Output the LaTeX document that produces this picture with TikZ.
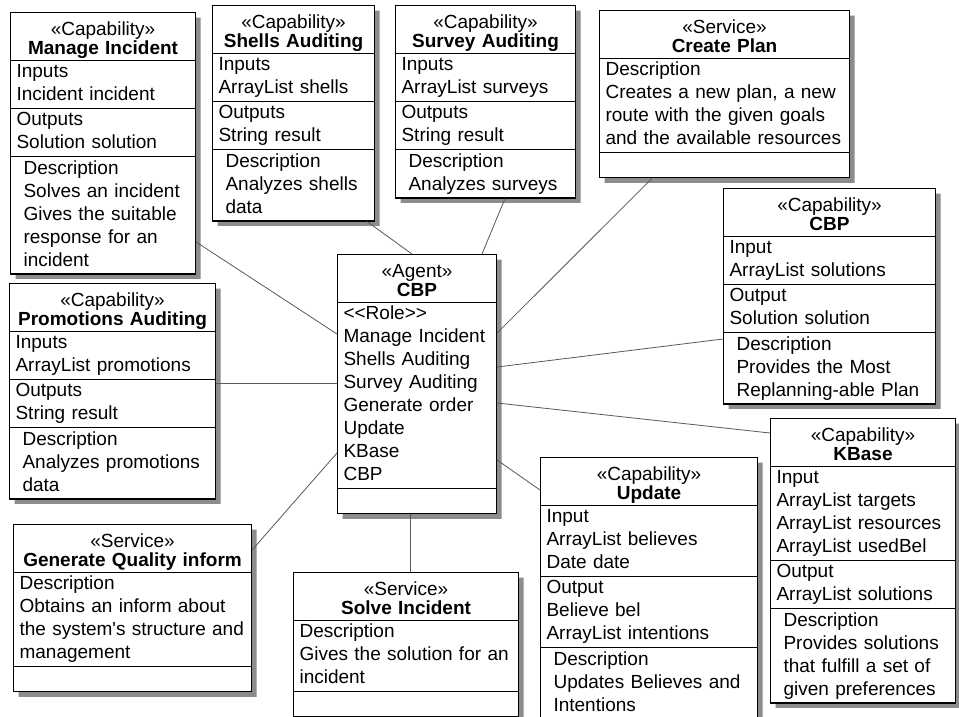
\documentclass[tikz,border=0pt]{standalone}
\usepackage{fontspec}
\setmainfont{Liberation Sans}
\usetikzlibrary{shapes.multipart,shadows}
\newcommand{\head}[2]{\centering\rule{0pt}{22pt}«#1»\\[-4pt]\textbf{#2}\rule[-5pt]{0pt}{5pt}\par}
\newcommand{\cell}[1]{\strut#1\strut\par}
\newcommand{\desc}[1]{\leftskip=7pt\strut#1\strut\par}
\tikzset{
    umlbox/.style={
        draw,fill=white,line width=1.1pt,
        rectangle split,rectangle split parts=#1,
        anchor=north west,align=left,
        inner xsep=6pt,inner ysep=0.5pt,
        font=\fontsize{19}{23}\selectfont,
        drop shadow={shadow xshift=5pt,shadow yshift=-5pt,fill=black!45,opacity=1},
    },
    link/.style={draw=black!65,line width=0.8pt},
}
\begin{document}
\begin{tikzpicture}[x=1pt,y=-1pt]
    \useasboundingbox[fill=white] (0,0) rectangle (959,716);
    \node[umlbox=4,text width=173pt] (manage) at (10,12) {\head{Capability}{Manage Incident}
        \nodepart{two}\cell{Inputs\\Incident incident}
        \nodepart{three}\cell{Outputs\\Solution solution}
        \nodepart{four}\desc{Description\\Solves an incident\\Gives the suitable\\response for an\\incident}};
    \node[umlbox=4,text width=150pt] (shells) at (212,5) {\head{Capability}{Shells Auditing}
        \nodepart{two}\cell{Inputs\\ArrayList shells}
        \nodepart{three}\cell{Outputs\\String result}
        \nodepart{four}\desc{Description\\Analyzes shells\\data}};
    \node[umlbox=4,text width=168pt] (survey) at (395,5) {\head{Capability}{Survey Auditing}
        \nodepart{two}\cell{Inputs\\ArrayList surveys}
        \nodepart{three}\cell{Outputs\\String result}
        \nodepart{four}\desc{Description\\Analyzes surveys}};
    \node[umlbox=3,text width=238pt] (createplan) at (599,10) {\head{Service}{Create Plan}
        \nodepart{two}\cell{Description\\Creates a new plan, a new\\route with the given goals\\and the available resources}
        \nodepart{three}\strut};
    \node[umlbox=3,text width=147pt] (agent) at (337,254) {\head{Agent}{CBP}
        \nodepart{two}\cell{<{}<Role>{}>\\Manage Incident\\Shells Auditing\\Survey Auditing\\Generate order\\Update\\KBase\\CBP}
        \nodepart{three}\strut};
    \node[umlbox=4,text width=200pt] (capcbp) at (723,188) {\head{Capability}{CBP}
        \nodepart{two}\cell{Input\\ArrayList solutions}
        \nodepart{three}\cell{Output\\Solution solution}
        \nodepart{four}\desc{Description\\Provides the Most\\Replanning-able Plan}};
    \node[umlbox=4,text width=173pt] (kbase) at (770,418) {\head{Capability}{KBase}
        \nodepart{two}\cell{Input\\ArrayList targets\\ArrayList resources\\ArrayList usedBel}
        \nodepart{three}\cell{Output\\ArrayList solutions}
        \nodepart{four}\desc{Description\\Provides solutions\\that fulfill a set of\\given preferences}};
    \node[umlbox=4,text width=205pt] (update) at (540,457) {\head{Capability}{Update}
        \nodepart{two}\cell{Input\\ArrayList believes\\Date date}
        \nodepart{three}\cell{Output\\Believe bel\\ArrayList intentions}
        \nodepart{four}\desc{Description\\Updates Believes and\\Intentions}};
    \node[umlbox=4,text width=194pt] (promo) at (9,283) {\head{Capability}{Promotions Auditing}
        \nodepart{two}\cell{Inputs\\ArrayList promotions}
        \nodepart{three}\cell{Outputs\\String result}
        \nodepart{four}\desc{Description\\Analyzes promotions\\data}};
    \node[umlbox=3,text width=226pt] (genq) at (13,524) {\head{Service}{Generate Quality inform}
        \nodepart{two}\cell{Description\\Obtains an inform about\\the system\textquotesingle s structure and\\management}
        \nodepart{three}\strut};
    \node[umlbox=3,text width=213pt] (solve) at (293,572) {\head{Service}{Solve Incident}
        \nodepart{two}\cell{Description\\Gives the solution for an\\incident}
        \nodepart{three}\strut};
    \draw[link] (manage.east |- 0,242) -- (agent.west |- 0,334);
    \draw[link] (shells.south -| 367,0) -- (agent.north -| 412,0);
    \draw[link] (survey.south -| 505,0) -- (agent.north -| 482,0);
    \draw[link] (createplan.south -| 652,0) -- (agent.east |- 0,333);
    \draw[link] (agent.east |- 0,367) -- (capcbp.west |- 0,339);
    \draw[link] (agent.east |- 0,403) -- (kbase.west |- 0,433);
    \draw[link] (agent.east |- 0,460) -- (update.west |- 0,490);
    \draw[link] (agent.south -| 410,0) -- (solve.north -| 410,0);
    \draw[link] (genq.east |- 0,550) -- (agent.west |- 0,453);
    \draw[link] (promo.east |- 0,383) -- (agent.west |- 0,383);
\end{tikzpicture}
\end{document}
